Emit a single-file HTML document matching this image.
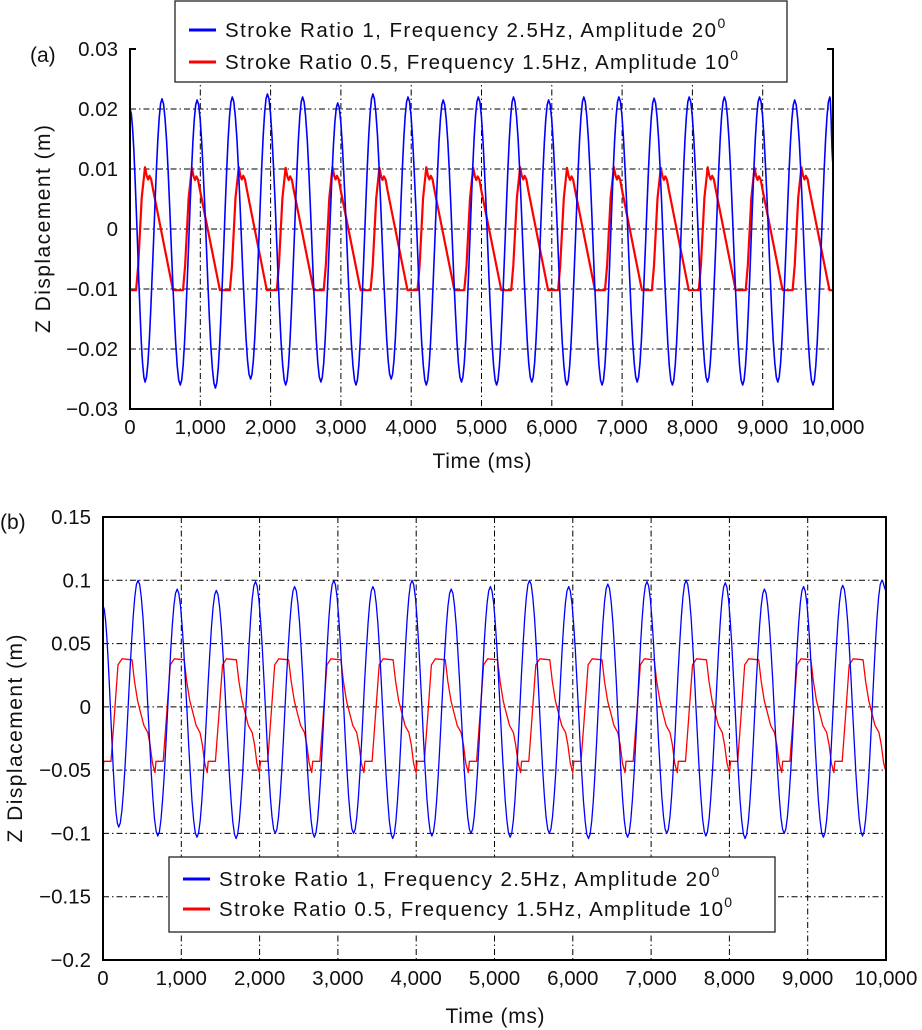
<!DOCTYPE html>
<html><head><meta charset="utf-8"><style>
body{margin:0;background:#fff}
svg{display:block;font-family:"Liberation Sans",sans-serif}
</style></head><body>
<svg id="chart" width="922" height="1030" viewBox="0 0 922 1030" xmlns="http://www.w3.org/2000/svg">
<defs>
<clipPath id="clipA"><rect x="130" y="49" width="703" height="360"/></clipPath>
<clipPath id="clipB"><rect x="103" y="517" width="783" height="443"/></clipPath>
</defs>
<g id="panelA"></g>
<g id="panelB"></g>
</svg>
<script>
// ---- Panel (a) data ----
const xTicks = [0,1000,2000,3000,4000,5000,6000,7000,8000,9000,10000];
const xTickLabels = ["0","1,000","2,000","3,000","4,000","5,000","6,000","7,000","8,000","9,000","10,000"];
const aYTicks = [0.03,0.02,0.01,0,-0.01,-0.02,-0.03];
const aYTickLabels = ["0.03","0.02","0.01","0","\u22120.01","\u22120.02","\u22120.03"];
const aBluePeakTimes = [455,955,1455,1955,2455,2955,3455,3955,4455,4955,5455,5955,6455,6955,7455,7955,8455,8955,9455,9955];
const aBluePeakVals = [0.0217,0.0215,0.022,0.0225,0.022,0.021,0.0225,0.022,0.0215,0.022,0.022,0.0215,0.022,0.022,0.0218,0.022,0.022,0.022,0.0215,0.022];
const aBlueTroughTimes = [215,715,1215,1715,2215,2715,3215,3715,4215,4715,5215,5715,6215,6715,7215,7715,8215,8715,9215,9715];
const aBlueTroughVals = [-0.0255,-0.026,-0.0265,-0.025,-0.026,-0.0255,-0.026,-0.025,-0.026,-0.0255,-0.026,-0.0255,-0.026,-0.026,-0.0255,-0.026,-0.0255,-0.026,-0.0255,-0.026];
const aBlueStart = 0.02, aBlueEnd = 0.011;
const aRedCycleStarts = [-580,87,754,1421,2088,2755,3422,4089,4756,5423,6090,6757,7424,8091,8758,9425];
const aRedPeakVals = [0.0103,0.0103,0.0102,0.0103,0.0102,0.0103,0.0102,0.0103,0.0102,0.0103,0.0102,0.0103,0.0102,0.0103,0.0102,0.0103];
const aRedTroughVals = [-0.0102,-0.0102,-0.0102,-0.0102,-0.0102,-0.0102,-0.0102,-0.0102,-0.0102,-0.0102,-0.0102,-0.0102,-0.0102,-0.0102,-0.0102,-0.0102];
const aRedShapeT = [0,30,80,126,150,170,190,215,240,525,667];
const aRedShapeF = [0,0.2,0.75,1,0.93,0.9,0.93,0.9,0.82,0,0];
// ---- Panel (b) data ----
const bYTicks = [0.15,0.1,0.05,0,-0.05,-0.1,-0.15,-0.2];
const bYTickLabels = ["0.15","0.1","0.05","0","\u22120.05","\u22120.1","\u22120.15","\u22120.2"];
const bBluePeakTimes = [447,947,1447,1947,2447,2947,3447,3947,4447,4947,5447,5947,6447,6947,7447,7947,8447,8947,9447,9947];
const bBluePeakVals = [0.1,0.093,0.092,0.099,0.095,0.1,0.095,0.1,0.093,0.095,0.1,0.095,0.097,0.099,0.1,0.098,0.093,0.095,0.096,0.1];
const bBlueTroughTimes = [200,700,1200,1700,2200,2700,3200,3700,4200,4700,5200,5700,6200,6700,7200,7700,8200,8700,9200,9700];
const bBlueTroughVals = [-0.095,-0.102,-0.103,-0.104,-0.1,-0.103,-0.1,-0.104,-0.102,-0.1,-0.103,-0.1,-0.104,-0.103,-0.1,-0.102,-0.104,-0.1,-0.103,-0.102];
const bBlueStart = 0.08, bBlueEnd = 0.092;
const bRedCycleStarts = [-565,102,769,1436,2103,2770,3437,4104,4771,5438,6105,6772,7439,8106,8773,9440];
const bRedPeakVals = [0.038,0.038,0.038,0.038,0.038,0.038,0.038,0.038,0.038,0.038,0.038,0.038,0.038,0.038,0.038,0.038];
const bRedTroughVals = [-0.043,-0.043,-0.043,-0.043,-0.043,-0.043,-0.043,-0.043,-0.043,-0.043,-0.043,-0.043,-0.043,-0.043,-0.043,-0.043];
const bRedShapeT = [0,40,90,141,268,300,340,380,420,470,500,530,562,575,667];
const bRedShapeF = [0,0.41,0.94,1,0.99,0.78,0.59,0.47,0.35,0.28,0.16,-0.02,-0.11,0,0];

const NS="http://www.w3.org/2000/svg";
function mk(parent,tag,attrs,text){const e=document.createElementNS(NS,tag);for(const k in attrs)e.setAttribute(k,attrs[k]);if(text!==undefined)e.textContent=text;parent.appendChild(e);return e;}

function buildBlue(peakT,peakV,trT,trV,start,end){
  let pts=[[0,start]];
  peakT.forEach((t,i)=>pts.push([t,peakV[i]]));
  trT.forEach((t,i)=>pts.push([t,trV[i]]));
  pts.push([10000,end]);
  pts.sort((a,b)=>a[0]-b[0]);
  const out=[];
  for(let i=0;i<pts.length-1;i++){
    const [t0,v0]=pts[i],[t1,v1]=pts[i+1];
    for(let s=0;s<12;s++){const f=s/12;const w=(1-Math.cos(Math.PI*f))/2;out.push([t0+(t1-t0)*f,v0+(v1-v0)*w]);}
  }
  out.push(pts[pts.length-1]);
  return out;
}
function buildRed(starts,pv,tv,shT,shF){
  const out=[];
  starts.forEach((c,i)=>{shT.forEach((o,j)=>{out.push([c+o,tv[i]+(pv[i]-tv[i])*shF[j]]);});});
  return out;
}

function panel(g,o){
  const sx=t=>o.x0+(t/10000)*(o.x1-o.x0);
  const sy=v=>o.yTop+(o.vTop-v)/(o.vTop-o.vBot)*(o.yBot-o.yTop);
  xTicks.forEach((t,i)=>{
    if(i>0&&i<xTicks.length-1){const l=mk(g,'line',{x1:sx(t),x2:sx(t),y1:o.yTop,y2:o.yBot,stroke:'#000','stroke-width':1,'stroke-dasharray':'6,3,1.5,3'});
    
    }
    const tk=mk(g,'text',{x:sx(t),y:o.yBot+25,'text-anchor':'middle','font-size':20.5,fill:'#111'},xTickLabels[i]);
    
    
  });
  o.yTicks.forEach((v,i)=>{
    if(i>0&&i<o.yTicks.length-1){const l=mk(g,'line',{x1:o.x0,x2:o.x1,y1:sy(v),y2:sy(v),stroke:'#000','stroke-width':1,'stroke-dasharray':'6,3,1.5,3'});
    
    }
    const tk=mk(g,'text',{x:o.x0-12,y:sy(v)+7,'text-anchor':'end','font-size':20.5,fill:'#111'},o.yLabels[i]);
    
    
  });
  const toPath=pts=>pts.map((p,i)=>(i?'L':'M')+sx(p[0]).toFixed(1)+','+sy(p[1]).toFixed(1)).join('');
  const red=mk(g,'path',{d:toPath(o.red),fill:'none',stroke:'#ff0000','stroke-width':o.redW,'clip-path':o.clip,'stroke-linejoin':'round'});
  
  
  const blue=mk(g,'path',{d:toPath(o.blue),fill:'none',stroke:'#0000ff','stroke-width':o.blueW,'clip-path':o.clip,'stroke-linejoin':'round'});
  
  
  const fr=o.topBorder?`M${o.x0},${o.yTop}L${o.x0},${o.yBot}L${o.x1},${o.yBot}L${o.x1},${o.yTop}Z`
    :`M${o.x0+6},${o.yTop}L${o.x0},${o.yTop}L${o.x0},${o.yBot}L${o.x1},${o.yBot}L${o.x1},${o.yTop}L${o.x1-6},${o.yTop}`;
  const f=mk(g,'path',{d:fr,fill:'none',stroke:'#000','stroke-width':2});
  
  
  const xt=mk(g,'text',{x:o.xTitleX,y:o.xTitleY,'text-anchor':'middle','font-size':21,fill:'#111',textLength:99},'Time (ms)');
  
  
  const yt=mk(g,'text',{x:0,y:0,'text-anchor':'middle','font-size':21,fill:'#111',textLength:208,transform:`translate(${o.yTitleX},${(o.yTop+o.yBot)/2}) rotate(-90)`},'Z Displacement (m)');
  
  
  const pl=mk(g,'text',{x:o.plX,y:o.plY,'font-size':21,fill:'#111'},o.panelLabel);
  
  
  const L=o.leg;
  const lg=mk(g,'g',{});
  
  
  mk(lg,'rect',{x:L.x,y:L.y,width:L.w,height:L.h,fill:'#fff',stroke:'#222','stroke-width':1.3});
  [['#0000ff','Stroke Ratio 1, Frequency 2.5Hz, Amplitude 20',491],['#ff0000','Stroke Ratio 0.5, Frequency 1.5Hz, Amplitude 10',504]].forEach((e,i)=>{
    const yy=L.y+L.r0+i*L.dr;
    const en=mk(lg,'g',{});
    
    
    mk(en,'line',{x1:L.x+14,x2:L.x+41,y1:yy,y2:yy,stroke:e[0],'stroke-width':3});
    const t=mk(en,'text',{x:L.x+50,y:yy+7,'font-size':20.5,fill:'#111'});
    mk(t,'tspan',{textLength:e[2],lengthAdjust:'spacing'},e[1]);
    mk(t,'tspan',{'font-size':14,dy:-9},'0');
  });
}

panel(document.getElementById('panelA'),{x0:130,x1:833,yTop:49,yBot:409,vTop:0.03,vBot:-0.03,yTicks:aYTicks,yLabels:aYTickLabels,
  blue:buildBlue(aBluePeakTimes,aBluePeakVals,aBlueTroughTimes,aBlueTroughVals,aBlueStart,aBlueEnd),
  red:buildRed(aRedCycleStarts,aRedPeakVals,aRedTroughVals,aRedShapeT,aRedShapeF),
  blueW:1.6,redW:2.2,clip:'url(#clipA)',topBorder:false,
  xTitleX:482,xTitleY:468,yTitleX:50,plX:30,plY:62,panelLabel:'(a)',
  leg:{x:175,y:1,w:612,h:81,r0:29,dr:32}});
panel(document.getElementById('panelB'),{x0:103,x1:886,yTop:517,yBot:960,vTop:0.15,vBot:-0.2,yTicks:bYTicks,yLabels:bYTickLabels,
  blue:buildBlue(bBluePeakTimes,bBluePeakVals,bBlueTroughTimes,bBlueTroughVals,bBlueStart,bBlueEnd),
  red:buildRed(bRedCycleStarts,bRedPeakVals,bRedTroughVals,bRedShapeT,bRedShapeF),
  blueW:1.3,redW:1.3,clip:'url(#clipB)',topBorder:true,
  xTitleX:495,xTitleY:1023,yTitleX:22,plX:0,plY:529,panelLabel:'(b)',
  leg:{x:169,y:857,w:606,h:75,r0:22,dr:30}});
</script>
</body></html>
